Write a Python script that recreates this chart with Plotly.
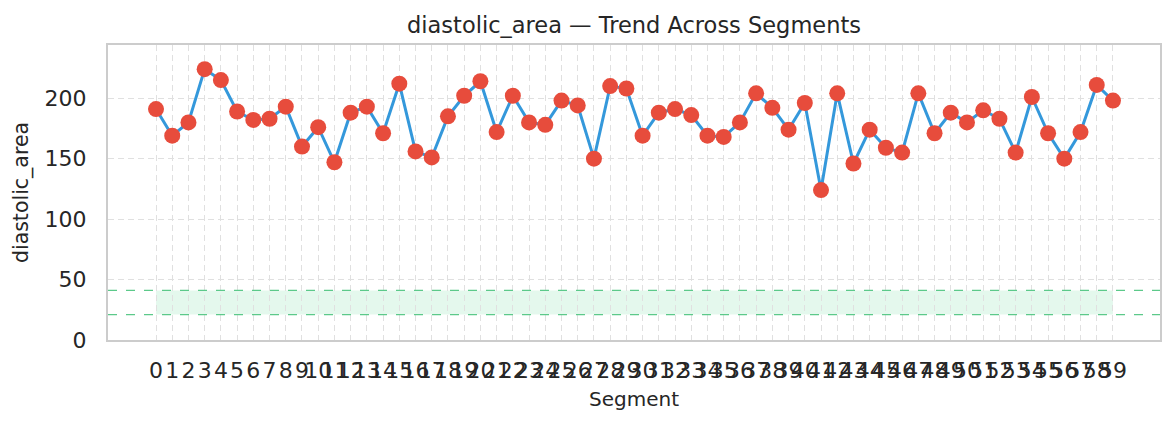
import plotly.graph_objects as go

segments = list(range(60))
values = [191, 169, 180, 224, 215, 189, 182, 183, 193, 160,
          176, 147, 188, 193, 171, 212, 156, 151, 185, 202,
          214, 172, 202, 180, 178, 198, 194, 150, 210, 208,
          169, 188, 191, 186, 169, 168, 180, 204, 192, 174,
          196, 124, 204, 146, 174, 159, 155, 204, 171, 188,
          180, 190, 183, 155, 201, 171, 150, 172, 211, 198]
band_low = 21
band_high = 41
tick_labels = [str(s) for s in segments]

fig = go.Figure()
fig.add_shape(type="rect", xref="x", yref="y", x0=segments[0], x1=segments[-1],
              y0=band_low, y1=band_high, fillcolor="rgba(46,204,113,0.13)",
              line=dict(width=0), layer="below")
for yv in (band_low, band_high):
    fig.add_shape(type="line", xref="paper", yref="y", x0=0, x1=1, y0=yv, y1=yv,
                  line=dict(color="#5cc98a", width=1.2, dash="dash"))

fig.add_trace(go.Scatter(x=segments, y=values, mode="lines+markers",
                         line=dict(color="#3498db", width=3),
                         marker=dict(color="#e74c3c", size=16, line=dict(width=0)),
                         showlegend=False))

fig.update_layout(
    width=1176, height=425,
    margin=dict(l=108, r=16, t=45, b=85),
    paper_bgcolor="white", plot_bgcolor="white",
    font=dict(family="DejaVu Sans", color="#262626"),
    title=dict(text="diastolic_area — Trend Across Segments", xref="paper", x=0.5,
               xanchor="center", yref="container",
               y=1 - 25/425, yanchor="middle", font=dict(size=22.5, color="#262626")),
)
fig.update_xaxes(range=[-2.96, 61.9], tickmode="array", tickvals=segments, ticktext=tick_labels,
                 tickangle=0,
                 tickfont=dict(size=22), showgrid=True, gridcolor="#e0e0e0", griddash="6px,4px",
                 gridwidth=1.4, zeroline=False, showline=True, linecolor="#cccccc", linewidth=2,
                 mirror=True, ticks="", ticklabelstandoff=10,
                 title=dict(text="Segment", font=dict(size=20), standoff=10))
fig.update_yaxes(range=[0, 244], tickvals=[0, 50, 100, 150, 200], tickfont=dict(size=22),
                 showgrid=True, gridcolor="#e0e0e0", griddash="6px,4px", gridwidth=1.4,
                 zeroline=False, showline=True, linecolor="#cccccc", linewidth=2, mirror=True,
                 ticks="", ticklabelstandoff=15,
                 title=dict(text="diastolic_area", font=dict(size=20.5), standoff=10))

fig.write_html("out.html")
